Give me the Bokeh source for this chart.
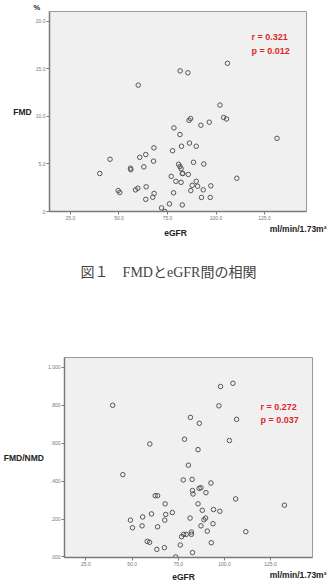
from bokeh.plotting import figure
from bokeh.models import Label, FixedTicker, Range1d
from bokeh.layouts import column
from bokeh.embed import file_html
from bokeh.resources import INLINE

# ---- data: chart 1 (FMD vs eGFR) ----
egfr_1 = [40.1, 45.4, 49.6, 50.4, 55.9, 56.1, 58.5, 59.7, 59.9, 60.7,
          62.8, 63.8, 64.0, 63.8, 67.8, 68.0, 68.1, 67.4, 71.9, 73.6,
          76.0, 76.9, 77.6, 78.1, 78.3, 79.3, 80.7, 81.4, 81.5, 81.4,
          82.0, 82.0, 82.2, 82.6, 82.9, 82.6, 85.5, 85.7, 86.1, 86.3,
          86.9, 87.0, 87.7, 88.4, 89.8, 89.8, 90.5, 92.2, 92.5, 93.4,
          93.7, 96.5, 97.0, 97.3, 102.0, 103.9, 105.4, 105.9, 110.7, 131.4]
fmd = [4.0, 5.5, 2.2, 2.0, 4.56, 4.4, 2.28, 2.45, 13.3, 5.7,
       4.7, 6.0, 2.6, 1.28, 5.3, 6.7, 1.9, 1.5, 0.38, 0.0,
       0.8, 3.7, 6.4, 1.97, 8.8, 3.18, 4.97, 8.1, 14.8, 4.73,
       4.5, 3.07, 6.87, 4.0, 4.0, 0.69, 14.6, 3.9, 9.6, 7.2,
       9.78, 2.2, 2.76, 5.18, 6.87, 3.18, 2.66, 9.08, 1.48, 2.28,
       5.0, 9.4, 1.48, 2.7, 11.2, 9.9, 9.74, 15.6, 3.5, 7.7]

# ---- data: chart 2 (FMD/NMD vs eGFR) ----
egfr_2 = [39.5, 45.0, 49.1, 50.2, 55.4, 55.7, 58.2, 59.5, 59.6, 60.5,
          62.5, 63.8, 63.8, 63.4, 67.5, 67.7, 67.9, 68.2, 71.8, 73.6,
          76.1, 76.8, 77.7, 77.9, 78.4, 79.3, 80.5, 81.4, 81.6, 82.1,
          82.1, 82.5, 82.7, 83.0, 82.7, 85.7, 85.7, 86.3, 86.4, 87.3,
          87.3, 88.0, 88.9, 89.8, 90.0, 90.7, 92.7, 92.9, 93.8, 94.1,
          97.0, 97.5, 97.9, 102.7, 104.6, 106.1, 106.6, 111.6, 132.5]
ratio = [0.80, 0.434, 0.194, 0.154, 0.164, 0.211, 0.082, 0.077, 0.596, 0.227,
         0.323, 0.323, 0.159, 0.040, 0.049, 0.194, 0.28, 0.224, 0.234, 0.0,
         0.063, 0.107, 0.406, 0.119, 0.621, 0.119, 0.484, 0.205, 0.736, 0.131,
         0.119, 0.409, 0.35, 0.332, 0.023, 0.566, 0.28, 0.362, 0.705, 0.365,
         0.164, 0.246, 0.196, 0.205, 0.339, 0.136, 0.39, 0.075, 0.175, 0.25,
         0.797, 0.241, 0.899, 0.614, 0.916, 0.306, 0.726, 0.133, 0.273]

# ---- ticks ----
x_ticks = [25, 50, 75, 100, 125]
x_tick_labels = ["25.0", "50.0", "75.0", "100.0", "125.0"]
fmd_ticks = [0, 5, 10, 15, 20]
fmd_tick_labels = [".0", "5.0", "10.0", "15.0", "20.0"]
ratio_ticks = [0.0, 0.2, 0.4, 0.6, 0.8, 1.0]
ratio_tick_labels = [".000", ".200", ".400", ".600", ".800", "1.000"]

# ---- texts ----
stats_1 = ["r = 0.321", "p = 0.012"]
stats_2 = ["r = 0.272", "p = 0.037"]
caption_1 = "図１　FMDとeGFR間の相関"
unit_text = "ml/min/1.73m²"
x_name = "eGFR"
y_name_1 = "FMD"
y_unit_1 = "%"
y_name_2 = "FMD/NMD"

FONT = "Liberation Sans"
RED = "#e0262a"
DARK = "#222222"
BG = "#f0f0f0"
W = 327


def no_align(f):
    try:
        f.frame_align = False
    except Exception:
        pass


def style(p, xt, xl, yt, yl, ylabel):
    p.background_fill_color = BG
    p.border_fill_color = "white"
    p.outline_line_color = "#9a9a9a"
    p.outline_line_width = 1
    p.grid.visible = False
    for ax in (p.xaxis[0], p.yaxis[0]):
        ax.axis_line_color = "#7a7a7a"
        ax.axis_line_width = 1.5
        ax.major_tick_line_color = "#7a7a7a"
        ax.major_tick_in = 0
        ax.major_tick_out = 3
        ax.minor_tick_line_color = None
        ax.major_label_text_font = FONT
        ax.major_label_text_font_size = "5px"
        ax.major_label_text_color = "#777777"
        ax.major_label_standoff = 1
    p.xaxis[0].ticker = FixedTicker(ticks=xt)
    p.xaxis[0].major_label_overrides = {t: l for t, l in zip(xt, xl)}
    p.yaxis[0].ticker = FixedTicker(ticks=yt)
    p.yaxis[0].major_label_overrides = {t: l for t, l in zip(yt, yl)}
    ya = p.yaxis[0]
    ya.axis_label = ylabel
    ya.axis_label_orientation = "horizontal"
    ya.axis_label_standoff = 1
    ya.axis_label_text_font = FONT
    ya.axis_label_text_font_size = "8.5px"
    ya.axis_label_text_font_style = "bold"
    ya.axis_label_text_color = DARK
    no_align(p)


def text_fig(h):
    f = figure(width=W, height=h, output_backend="svg", toolbar_location=None,
               x_axis_type=None, y_axis_type=None, min_border=0,
               min_border_left=0, min_border_right=0,
               min_border_top=0, min_border_bottom=0,
               x_range=Range1d(0, 1), y_range=Range1d(0, 1))
    f.outline_line_color = None
    f.background_fill_color = "white"
    f.border_fill_color = "white"
    no_align(f)
    return f


def lab(f, h, text, x, y_top, align="center", baseline="top", size="8.5px",
        color=DARK, bold=True, font=FONT):
    # x: px from the left; y_top: px from the top of the text figure
    f.add_layout(Label(x=x, y=h - y_top, x_units="screen", y_units="screen",
                       text=text, text_align=align, text_baseline=baseline,
                       text_font=font, text_font_size=size,
                       text_font_style="bold" if bold else "normal",
                       text_color=color))


def stat(p, text, x, y):
    p.add_layout(Label(x=x, y=y, x_units="screen", y_units="screen",
                       text=text, text_align="left", text_baseline="middle",
                       text_font=FONT, text_font_size="9px",
                       text_font_style="bold", text_color=RED))


# ---------------- chart 1 ----------------
H1 = 222
p1 = figure(width=W, height=H1, output_backend="svg", toolbar_location=None,
            x_range=Range1d(14.2, 146.6), y_range=Range1d(0, 21.05),
            min_border_left=49, min_border_right=21,
            min_border_top=0, min_border_bottom=10)
style(p1, x_ticks, x_tick_labels, fmd_ticks, fmd_tick_labels, y_name_1)
# "%" unit sits above the y axis, as the plot's title
p1.title.text = y_unit_1
p1.title.align = "left"
p1.title.offset = -16
p1.title.standoff = 0
p1.title.text_font = FONT
p1.title.text_font_size = "7.5px"
p1.title.text_font_style = "bold"
p1.title.text_color = DARK
p1.scatter(egfr_1, fmd, marker="circle", size=4.5, fill_color=None,
           line_color="#555555", line_width=1)
stat(p1, stats_1[0], 202, 174.5)
stat(p1, stats_1[1], 202, 161)

# ---------------- texts under chart 1 + caption ----------------
H1b = 108
t1 = text_fig(H1b)
lab(t1, H1b, unit_text, 326, 1.3, align="right")
lab(t1, H1b, x_name, 175, 5.5)
lab(t1, H1b, caption_1, 168, 49.5, baseline="middle", size="14px",
    color="#444444", bold=False, font="'Liberation Serif', 'Noto Sans CJK JP'")

# ---------------- chart 2 ----------------
H2 = 238
p2 = figure(width=W, height=H2, output_backend="svg", toolbar_location=None,
            x_range=Range1d(13.4, 147.7), y_range=Range1d(-0.003, 1.052),
            min_border_left=62, min_border_right=15,
            min_border_top=27, min_border_bottom=10)
style(p2, x_ticks, x_tick_labels, ratio_ticks, ratio_tick_labels, y_name_2)
p2.scatter(egfr_2, ratio, marker="circle", size=4.5, fill_color=None,
           line_color="#555555", line_width=1)
stat(p2, stats_2[0], 196, 150.3)
stat(p2, stats_2[1], 196, 137.3)

# ---------------- texts under chart 2 ----------------
H2b = 16
t2 = text_fig(H2b)
lab(t2, H2b, unit_text, 326, 1.5, align="right")
lab(t2, H2b, x_name, 183, 3.5)

layout = column(p1, t1, p2, t2, spacing=0)
open("out.html", "w").write(file_html(layout, INLINE))
